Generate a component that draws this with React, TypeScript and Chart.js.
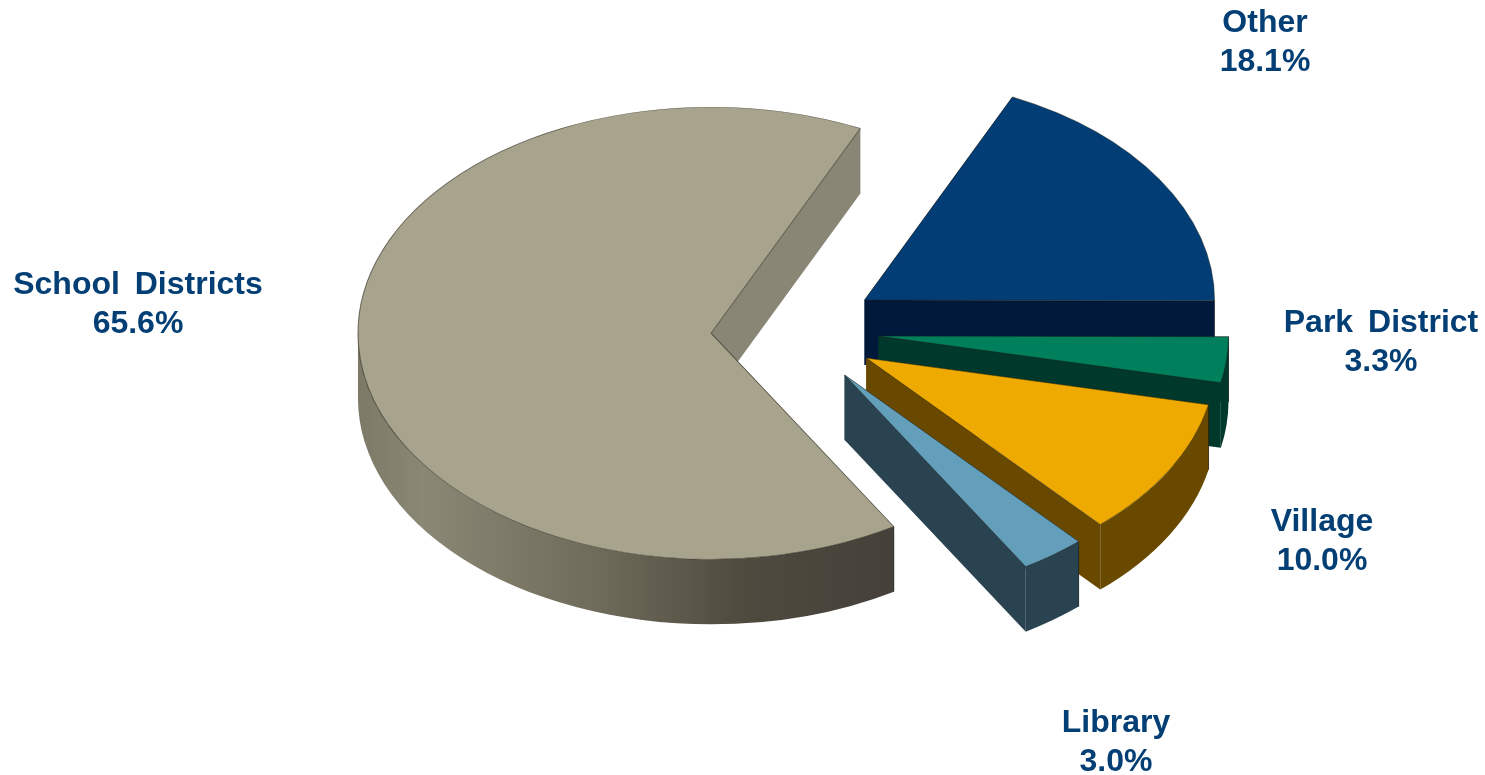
import React, { useEffect, useRef } from "react";
import { Chart, registerables } from "chart.js";

Chart.register(...registerables);

// Revenue shares, in percent, clockwise from the "Other" wedge.
const categories = ["Other", "Park District", "Village", "Library", "School Districts"];
const shares = [18.1, 3.3, 10.0, 3.0, 65.6];

const topColors = ["#023e75", "#007f5c", "#eeaa00", "#639fba", "#a8a38c"];
const wallColors = ["#00183a", "#00382b", "#694900", "#2a4351", "#8a8676"];

// How far each wedge is pulled out of the pie, in pixels, and its slight enlargement.
const explodeDistances = [80, 82, 80, 80, 86];
const wedgeScales = [1, 1, 1, 1, 1.009];

// Centre of each two-line label and the baseline row it starts on.
const labelCenters = [1265, 1381, 1322, 1116, 138];
const labelBaselines = [32, 332, 531, 732, 294];

const PIE_RADIUS = 350;
const TILT = 0.64;
const EXPLODE_TILT = 0.7;
const WALL_DEPTH = 65;
const LABEL_COLOR = "#033f75";
const LABEL_FONT = 'bold 32px "Liberation Sans", Arial, sans-serif';
const LINE_GAP = 39;

// Side shading of the large wedge, dark towards the right.
const curvedWallStops: [number, string][] = [
  [0, "#7d7967"],
  [0.12, "#8b8775"],
  [0.45, "#6f6b5a"],
  [0.72, "#4e4a3e"],
  [1, "#45413a"],
];

// Draws each arc as a tilted, extruded wedge, back to front in dataset order.
const extrudedPie = {
  id: "extrudedPie",
  beforeDatasetDraw(chart: any, args: any) {
    const ctx: CanvasRenderingContext2D = chart.ctx;
    const arcs = args.meta.data;
    arcs.forEach((arc: any, i: number) => {
      const { x, y, startAngle, endAngle, outerRadius } = arc.getProps([
        "x",
        "y",
        "startAngle",
        "endAngle",
        "outerRadius",
      ]);
      const scale = wedgeScales[i];
      const r = outerRadius * scale;
      const mid = (startAngle + endAngle) / 2;
      const cx = x + Math.cos(mid) * explodeDistances[i];
      const cy = y + Math.sin(mid) * explodeDistances[i] * EXPLODE_TILT;
      const px = (a: number) => cx + r * Math.cos(a);
      const py = (a: number) => cy + r * TILT * Math.sin(a);

      ctx.save();
      ctx.lineWidth = 1;
      ctx.strokeStyle = "rgba(20,20,15,0.55)";

      // Flat cut faces running from the centre to the rim.
      [startAngle, endAngle].forEach((a: number) => {
        ctx.beginPath();
        ctx.moveTo(cx, cy);
        ctx.lineTo(px(a), py(a));
        ctx.lineTo(px(a), py(a) + WALL_DEPTH);
        ctx.lineTo(cx, cy + WALL_DEPTH);
        ctx.closePath();
        ctx.fillStyle = wallColors[i];
        ctx.fill();
      });

      // Curved rim: only the half facing the viewer is visible.
      const from = Math.max(startAngle, 0);
      const to = Math.min(endAngle, Math.PI);
      if (to > from) {
        ctx.beginPath();
        ctx.ellipse(cx, cy, r, r * TILT, 0, from, to);
        ctx.lineTo(px(to), py(to) + WALL_DEPTH);
        ctx.ellipse(cx, cy + WALL_DEPTH, r, r * TILT, 0, to, from, true);
        ctx.closePath();
        if (i === arcs.length - 1) {
          const g = ctx.createLinearGradient(cx - r, 0, px(from), 0);
          curvedWallStops.forEach(([s, c]) => g.addColorStop(s, c));
          ctx.fillStyle = g;
        } else {
          ctx.fillStyle = wallColors[i];
        }
        ctx.fill();
        ctx.beginPath();
        ctx.moveTo(px(from), py(from));
        ctx.lineTo(px(from), py(from) + WALL_DEPTH);
        ctx.stroke();
      }
      ctx.restore();

      // The top face is the library's own arc element, squashed into the tilt.
      ctx.save();
      ctx.translate(cx, cy);
      ctx.scale(scale, TILT * scale);
      ctx.translate(-x, -y);
      arc.draw(ctx);
      ctx.restore();
    });
    return false;
  },
  afterDraw(chart: any) {
    const ctx: CanvasRenderingContext2D = chart.ctx;
    ctx.save();
    ctx.font = LABEL_FONT;
    ctx.fillStyle = LABEL_COLOR;
    ctx.textAlign = "center";
    ctx.textBaseline = "alphabetic";
    (ctx as any).wordSpacing = "6px";
    categories.forEach((name, i) => {
      ctx.fillText(name, labelCenters[i], labelBaselines[i]);
      ctx.fillText(`${shares[i].toFixed(1)}%`, labelCenters[i], labelBaselines[i] + LINE_GAP);
    });
    ctx.restore();
  },
};

export default function App() {
  const canvasRef = useRef<HTMLCanvasElement>(null);

  useEffect(() => {
    const chart = new Chart(canvasRef.current as HTMLCanvasElement, {
      type: "pie",
      data: {
        labels: categories,
        datasets: [
          {
            data: shares,
            backgroundColor: topColors,
            borderColor: "rgba(30,30,20,0.6)",
            borderWidth: 1,
            hoverOffset: 0,
            clip: false,
          } as any,
        ],
      },
      options: {
        responsive: false,
        animation: false,
        rotation: 25,
        radius: PIE_RADIUS,
        layout: { padding: { left: 109, bottom: 115 } },
        events: [],
        plugins: { legend: { display: false }, tooltip: { enabled: false } },
      },
      plugins: [extrudedPie],
    });
    return () => chart.destroy();
  }, []);

  return (
    <div style={{ position: "fixed", left: 0, top: 0, width: 1485, height: 775, background: "#fff" }}>
      <canvas ref={canvasRef} width={1485} height={775} style={{ display: "block" }} />
    </div>
  );
}
